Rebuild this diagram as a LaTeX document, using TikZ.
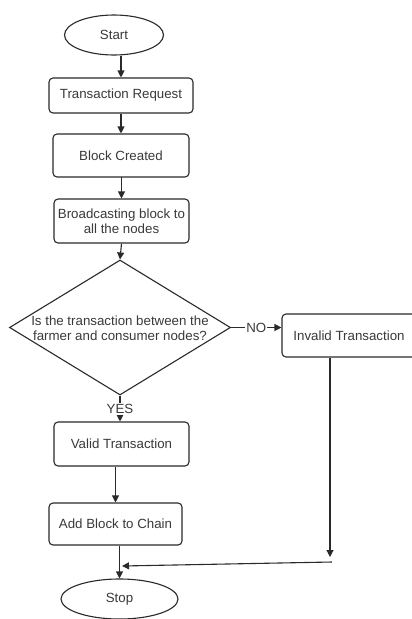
\documentclass[tikz,border=0pt]{standalone}
\usepackage{fontspec}
\setmainfont{Liberation Sans}
\usetikzlibrary{shapes.geometric,arrows.meta}
\definecolor{txtgray}{HTML}{3A3A3A}
\definecolor{linegray}{HTML}{2A2A2A}
\begin{document}
\begin{tikzpicture}[x=1pt,y=-1pt,
  every node/.style={font=\fontsize{13.3}{15}\selectfont, text=txtgray},
  procbox/.style={draw=linegray, line width=1.1pt, rounded corners=4pt, align=center, inner sep=0pt},
  term/.style={draw=linegray, line width=1.1pt, ellipse, inner sep=0pt},
  arr/.style={draw=linegray, line width=1.1pt, -{Triangle[length=7pt,width=7pt]}},
  lbl/.style={fill=white, inner sep=1pt}]
\useasboundingbox (0,0) rectangle (412,619);
\fill[white] (0,0) rectangle (412,619);

\node[term, minimum width=99pt, minimum height=40pt] (start) at (114,35) {Start};
\node[procbox, minimum width=144pt, minimum height=35pt] (tr) at (121,95.5) {Transaction Request};
\node[procbox, minimum width=136pt, minimum height=43pt] (bc) at (121,155.5) {Block Created};
\node[procbox, minimum width=135pt, minimum height=44pt] (bb) at (121.5,221) {Broadcasting block to\\all the nodes};
\node[diamond, draw=linegray, line width=1.1pt, inner sep=0pt, aspect=1.64,
      minimum width=221pt, minimum height=135pt,
      label={[align=center, inner sep=0pt, yshift=-0.5pt]center:Is the transaction between the\\farmer and consumer nodes?}] (dec) at (120,327.5) {};
\node[procbox, minimum width=134pt, minimum height=43pt] (inv) at (349,335.5) {Invalid Transaction};
\node[procbox, minimum width=135pt, minimum height=44pt] (valid) at (121.5,444) {Valid Transaction};
\node[procbox, minimum width=133pt, minimum height=42pt] (add) at (115.5,524) {Add Block to Chain};
\node[term, minimum width=117pt, minimum height=40pt] (stop) at (119.5,599) {Stop};

\coordinate (c1) at (330,557);
\coordinate (c2) at (332,562);
\coordinate (c3) at (122,566);

\draw[arr] (tr.north |- start.south) -- (tr.north);
\draw[arr] (tr.south) -- (bc.north);
\draw[arr] (bc.south) -- (bb.south |- bc.south) -- (bb.north);
\draw[arr] (bb.south) -- (dec.north);
\draw[arr] (dec.east) -- node[lbl] {NO} (dec.east -| inv.west);
\draw[arr] (dec.south) -- node[lbl, pos=0.52] {YES} (valid.north -| dec.south);
\draw[arr] (add.north |- valid.south) -- (add.north);
\draw[arr] (stop.north |- add.south) -- (stop.north);
\draw[arr] (c1 |- inv.south) -- (c1);
\draw[arr] (c2) -- (c3);
\end{tikzpicture}
\end{document}
